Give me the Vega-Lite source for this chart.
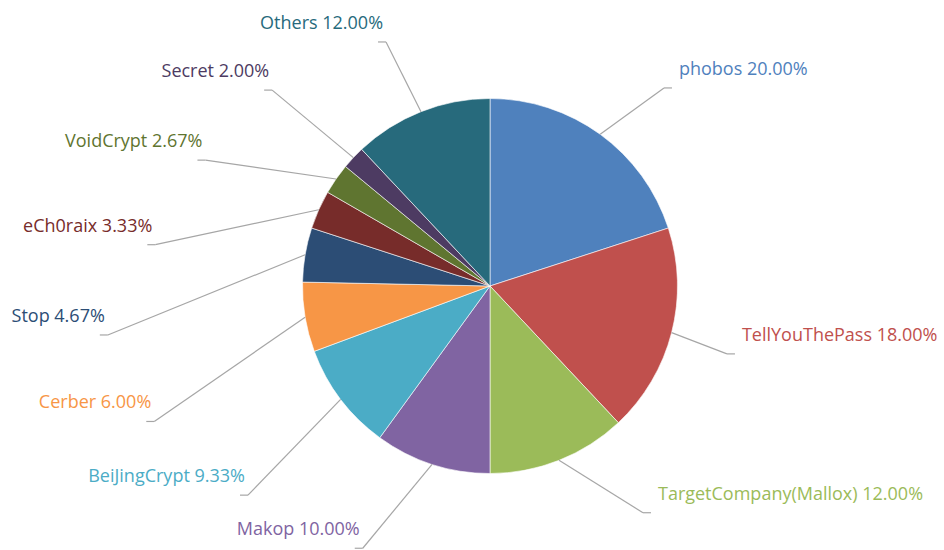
{
  "$schema": "https://vega.github.io/schema/vega-lite/v6.json",
  "width": 908,
  "height": 528,
  "padding": {"left": 36, "top": 22, "right": 0, "bottom": 0},
  "autosize": {"type": "none"},
  "background": "white",
  "config": {"view": {"stroke": null}},
  "data": {
    "values": [
      {"idx": 1, "name": "phobos", "count": 30},
      {"idx": 2, "name": "TellYouThePass", "count": 27},
      {"idx": 3, "name": "TargetCompany(Mallox)", "count": 18},
      {"idx": 4, "name": "Makop", "count": 15},
      {"idx": 5, "name": "BeiJingCrypt", "count": 14},
      {"idx": 6, "name": "Cerber", "count": 9},
      {"idx": 7, "name": "Stop", "count": 7},
      {"idx": 8, "name": "eCh0raix", "count": 5},
      {"idx": 9, "name": "VoidCrypt", "count": 4},
      {"idx": 10, "name": "Secret", "count": 3},
      {"idx": 11, "name": "Others", "count": 18}
    ]
  },
  "transform": [
    {"window": [{"op": "sum", "field": "count", "as": "cum"}], "sort": [{"field": "idx"}], "frame": [null, 0]},
    {"joinaggregate": [{"op": "sum", "field": "count", "as": "total"}]},
    {"calculate": "(datum.cum - datum.count / 2) / datum.total * 2 * PI", "as": "mid"},
    {"calculate": "datum.mid * 180 / PI", "as": "md"},
    {"calculate": "datum.mid < PI ? 1 : 0", "as": "right"},
    {"calculate": "datum.right == 1 ? (0.95 + 1.181 * datum.md - 0.001675 * datum.md * datum.md) : (206.7 + (datum.idx - 4) * 18.63)", "as": "phid"},
    {"calculate": "datum.phid * PI / 180", "as": "phi"},
    {"calculate": "sin(datum.mid)", "as": "sx"},
    {"calculate": "cos(datum.mid)", "as": "sy"},
    {"calculate": "datum.right == 1 ? (1.547 - 0.24 * sin(datum.mid)) * sin(datum.phi) : -2.08 * pow(abs(sin(datum.phi)), 1.4) * (1 - 0.16 * exp(-pow((datum.phid - 290) / 16, 2)))", "as": "ex"},
    {"calculate": "datum.right == 1 ? (1.547 - 0.24 * sin(datum.mid)) * cos(datum.phi) : -0.0693 + 1.488 * cos(datum.phi)", "as": "ey"},
    {"calculate": "datum.right == 1 ? datum.ex + 0.0427 : datum.ex - 0.0427", "as": "tx"},
    {"calculate": "datum.right == 1 ? datum.ex + 0.08 : datum.ex - 0.016", "as": "lx"},
    {"calculate": "datum.ey + 0.096", "as": "ly"},
    {"calculate": "datum.name + ' ' + format(datum.count / datum.total * 100, '.2f') + '%'", "as": "label"}
  ],
  "layer": [
    {
      "mark": {"type": "arc", "outerRadius": 187.5, "stroke": "#ffffff", "strokeWidth": 0.6},
      "encoding": {
        "theta": {"field": "count", "type": "quantitative", "stack": true},
        "order": {"field": "idx", "type": "quantitative"},
        "color": {
          "field": "name",
          "type": "nominal",
          "legend": null,
          "scale": {
            "domain": ["phobos", "TellYouThePass", "TargetCompany(Mallox)", "Makop", "BeiJingCrypt", "Cerber", "Stop", "eCh0raix", "VoidCrypt", "Secret", "Others"],
            "range": ["#4F81BD", "#C0504D", "#9BBB59", "#8064A2", "#4BACC6", "#F79646", "#2C4D75", "#772C2A", "#5F7530", "#4D3B62", "#276A7C"]
          }
        }
      }
    },
    {
      "mark": {"type": "rule", "color": "#A6A6A6", "strokeWidth": 1.2},
      "encoding": {
        "x": {"field": "sx", "type": "quantitative", "axis": null, "scale": {"domain": [-2.4213, 2.4213], "nice": false, "zero": false}},
        "y": {"field": "sy", "type": "quantitative", "axis": null, "scale": {"domain": [-1.408, 1.408], "nice": false, "zero": false}},
        "x2": {"field": "ex"},
        "y2": {"field": "ey"}
      }
    },
    {
      "mark": {"type": "rule", "color": "#A6A6A6", "strokeWidth": 1.2},
      "encoding": {
        "x": {"field": "ex", "type": "quantitative"},
        "x2": {"field": "tx"},
        "y": {"field": "ey", "type": "quantitative"}
      }
    },
    {
      "transform": [{"filter": "datum.right == 1"}],
      "mark": {"type": "text", "align": "left", "baseline": "middle", "font": "Open Sans", "fontSize": 18},
      "encoding": {
        "x": {"field": "lx", "type": "quantitative"},
        "y": {"field": "ly", "type": "quantitative"},
        "text": {"field": "label"},
        "color": {"field": "name", "type": "nominal", "legend": null}
      }
    },
    {
      "transform": [{"filter": "datum.right == 0"}],
      "mark": {"type": "text", "align": "right", "baseline": "middle", "font": "Open Sans", "fontSize": 18},
      "encoding": {
        "x": {"field": "lx", "type": "quantitative"},
        "y": {"field": "ly", "type": "quantitative"},
        "text": {"field": "label"},
        "color": {"field": "name", "type": "nominal", "legend": null}
      }
    }
  ]
}
